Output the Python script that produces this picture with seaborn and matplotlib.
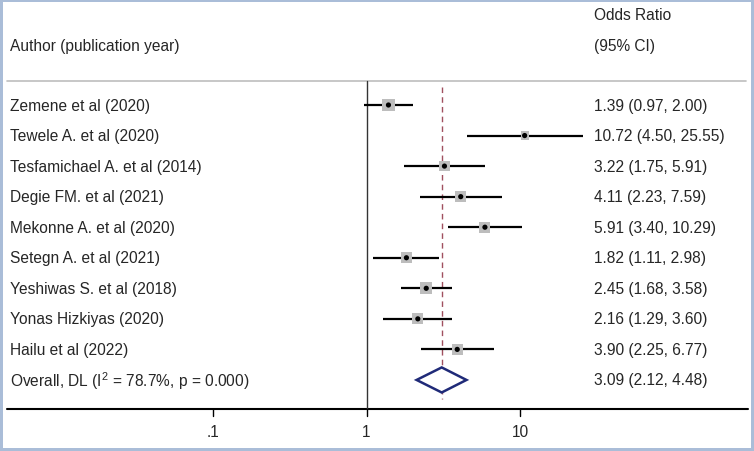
import numpy as np
import pandas as pd
import matplotlib
matplotlib.use("Agg")
import matplotlib.pyplot as plt
import matplotlib.transforms as mtrans
import seaborn as sns

# study data
studies = ["Zemene et al (2020)", "Tewele A. et al (2020)", "Tesfamichael A. et al (2014)",
           "Degie FM. et al (2021)", "Mekonne A. et al (2020)", "Setegn A. et al (2021)",
           "Yeshiwas S. et al (2018)", "Yonas Hizkiyas (2020)", "Hailu et al (2022)"]
odds = [1.39, 10.72, 3.22, 4.11, 5.91, 1.82, 2.45, 2.16, 3.90]
lower = [0.97, 4.50, 1.75, 2.23, 3.40, 1.11, 1.68, 1.29, 2.25]
upper = [2.00, 25.55, 5.91, 7.59, 10.29, 2.98, 3.58, 3.60, 6.77]
weights = [12.5, 8.0, 10.5, 10.5, 11.0, 11.5, 12.0, 11.0, 10.5]

overall_label = "Overall, DL (I$^2$ = 78.7%, p = 0.000)"
overall = [3.09, 2.12, 4.48]
xticks = [0.1, 1, 10]
xtick_labels = [".1", "1", "10"]

sns.set_style("white")
plt.rcParams["font.family"] = ["Liberation Sans", "DejaVu Sans"]
plt.rcParams["mathtext.default"] = "regular"

df = pd.DataFrame({"study": studies, "or": odds, "lo": lower, "hi": upper, "w": weights})
df["row"] = np.arange(len(df))
n = len(df)

fig = plt.figure(figsize=(7.54, 4.52), dpi=100)
fig.patch.set_edgecolor("#aabdd8")
fig.patch.set_linewidth(3)
ax = fig.add_axes([0, 0, 1, 1])
ax.set_xscale("log")
# .1 at px 213, 10 at px 520 on a 754 px wide figure
dec = (520 - 213) / 2.0
ax.set_xlim(10 ** (-1 - 213 / dec), 10 ** (1 + (754 - 520) / dec))
sp = 30.55
ax.set_ylim((452 - 106) / sp, -106 / sp)
ax.axis("off")

def ypix(p):
    return (p - 106) / sp

def xfrac(p):
    return p / 754

blend = mtrans.blended_transform_factory(ax.transAxes, ax.transData)
fs = 11.2
left_x = xfrac(10)
right_x = xfrac(594)

# header
ax.text(left_x, ypix(46), "Author (publication year)", fontsize=fs, va="center", transform=blend)
ax.text(right_x, ypix(15), "Odds Ratio", fontsize=fs, va="center", transform=blend)
ax.text(right_x, ypix(46), "(95% CI)", fontsize=fs, va="center", transform=blend)

# frame lines
ax.plot([xfrac(7), xfrac(746)], [ypix(82), ypix(82)], color="#bdbdbd", lw=1.2, transform=blend)
ax.plot([xfrac(7), xfrac(748)], [ypix(410), ypix(410)], color="black", lw=1.5, transform=blend)

# null line and pooled estimate line
ax.plot([1, 1], [ypix(82), ypix(410)], color="#333333", lw=1.0)
ax.plot([overall[0]] * 2, [ypix(88), ypix(400)], color="#a0505f", lw=1.0, ls=(0, (4, 3)))

# confidence intervals
ax.hlines(df["row"], df["lo"], df["hi"], color="black", lw=1.6, zorder=2)
# weight boxes and point estimates
sns.scatterplot(data=df, x="or", y="row", size="w", sizes=(35, 78), marker="s",
                color="#bdbdbd", edgecolor="none", legend=False, ax=ax, zorder=3)
sns.scatterplot(data=df, x="or", y="row", marker="o", s=14, color="black",
                edgecolor="none", legend=False, ax=ax, zorder=4)

# pooled diamond
est, lo, hi = overall
h = 0.41
ax.fill([lo, est, hi, est, lo], [n, n - h, n, n + h, n], facecolor="white",
        edgecolor="#1f2a78", lw=1.8, zorder=5)

# left and right text columns
for i, row in df.iterrows():
    ax.text(left_x, row["row"], row["study"], fontsize=fs, va="center", transform=blend)
    ax.text(right_x, row["row"], f"{row['or']:.2f} ({row['lo']:.2f}, {row['hi']:.2f})",
            fontsize=fs, va="center", transform=blend)
ax.text(left_x, n, overall_label, fontsize=fs, va="center", transform=blend)
ax.text(right_x, n, f"{est:.2f} ({lo:.2f}, {hi:.2f})", fontsize=fs, va="center", transform=blend)

# x ticks drawn under the axis line
for t, lab in zip(xticks, xtick_labels):
    ax.plot([t, t], [ypix(410), ypix(417)], color="black", lw=1.0)
    ax.text(t, ypix(433), lab, fontsize=fs, ha="center", va="center")

fig.savefig("out.png", dpi=100, edgecolor=fig.get_edgecolor())
